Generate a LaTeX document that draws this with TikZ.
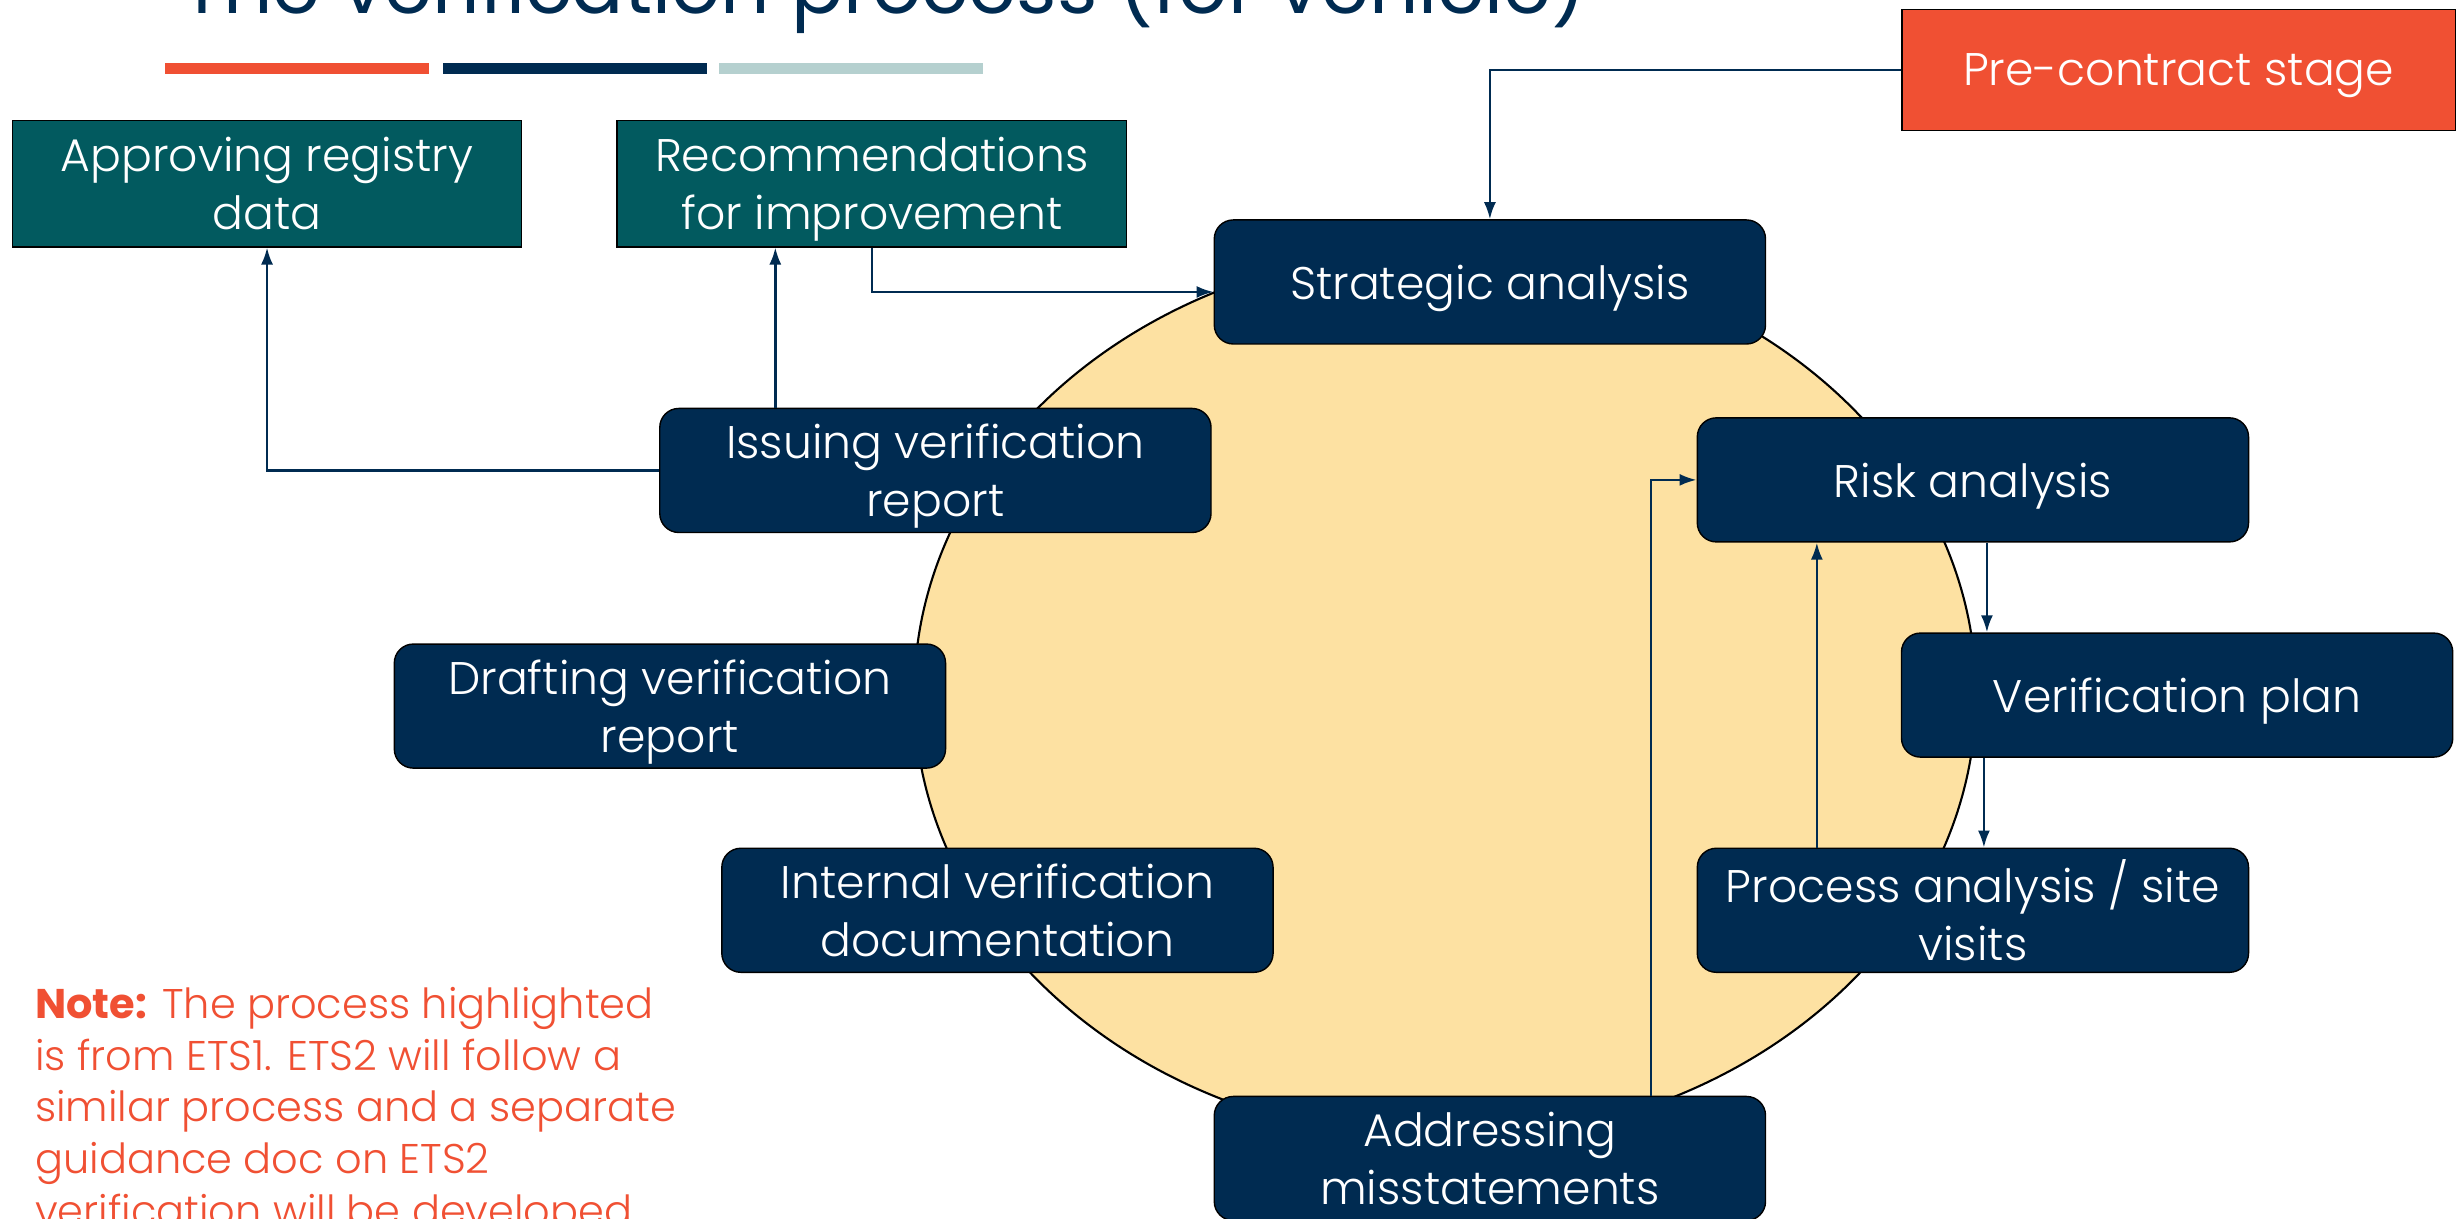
\documentclass[tikz,border=0pt]{standalone}
\usepackage{fontspec}
\IfFontExistsTF{Poppins Light}{\setmainfont{Poppins}[UprightFont=* Light,BoldFont=* Bold]}{\setmainfont{Poppins}}
\newfontfamily\headfont{Poppins}
\usepackage{xcolor}
\usetikzlibrary{arrows.meta}
\definecolor{navy}{HTML}{002B51}
\definecolor{redorange}{HTML}{F05033}
\definecolor{darkteal}{HTML}{025A5F}
\definecolor{paleteal}{HTML}{B5D0CF}
\definecolor{sand}{HTML}{FDE1A2}

\begin{document}
\begin{tikzpicture}[x=0.015708cm,y=-0.015708cm,
    stage/.style={draw=black,fill=navy,text=white,rounded corners=0.19cm,
      minimum width=5.51cm,minimum height=1.24cm,align=center,text depth=0pt,
      font=\fontsize{13}{16.5}\selectfont,inner sep=0pt},
    output/.style={draw=black,fill=darkteal,text=white,
      minimum width=5.09cm,minimum height=1.26cm,align=center,text depth=0pt,
      font=\fontsize{13}{16.5}\selectfont,inner sep=0pt},
    arr/.style={navy,line width=0.7pt,-{Latex[length=0.17cm,width=0.12cm]}}]
                \useasboundingbox (0,0) rectangle (1568,776);
                \node[anchor=base west,text=navy,font=\headfont\fontsize{22}{26}\selectfont,inner sep=0pt] (title) at (115,8.5) {The verification process (for vehicle)};
                \fill[redorange] (105,40) rectangle (273,47);
                \fill[navy] (282,40) rectangle (450,47);
                \fill[paleteal] (458,40) rectangle (626,47);
                \filldraw[fill=sand,draw=black,line width=0.6pt] (920,442) ellipse [x radius=338,y radius=284];
                \node[output,fill=redorange,minimum width=5.53cm,minimum height=1.21cm] (pre) at (1387,44.5) {Pre-contract stage};
                \node[output] (appr) at (170,117) {Approving registry\\data};
                \node[output] (rec) at (555,117) {Recommendations\\for improvement};
                \node[stage] (strat) at (948.5,179.5) {Strategic analysis};
                \node[stage] (risk) at (1256,305.5) {Risk analysis};
                \node[stage] (plan) at (1386,442.5) {Verification plan};
                \node[stage] (proc) at (1256,579.5) {Process analysis / site\\visits};
                \node[stage] (addr) at (948.5,737.5) {Addressing\\misstatements};
                \node[stage] (intern) at (635,579.5) {Internal verification\\documentation};
                \node[stage] (draft) at (426.5,449.5) {Drafting verification\\report};
                \node[stage] (issue) at (595.5,299.5) {Issuing verification\\report};
                \draw[arr] (pre.west) -| (strat.north);
                \draw[arr] (rec.south) |- ([yshift=-0.1cm]strat.west);
                \draw[arr] ([xshift=-1.6cm]issue.north) -- ([xshift=-1.6cm]issue.north |- rec.south);
                \draw[arr] (issue.west) -| (appr.south);
                \draw[arr] ([xshift=0.14cm]risk.south) -- ([xshift=0.14cm]risk.south |- plan.north);
                \draw[arr] ([xshift=0.11cm]proc.north |- plan.south) -- ([xshift=0.11cm]proc.north);
                \draw[arr] ([xshift=-1.56cm]proc.north) -- ([xshift=-1.56cm]risk.south);
                \draw[arr] ([xshift=1.61cm]addr.north) |- (risk.west);
                \node[anchor=north west,text=redorange,align=left,inner sep=0pt,font=\fontsize{11.8}{14.7}\selectfont] (note) at (22,628) {\textbf{Note:} The process highlighted\\is from ETS1. ETS2 will follow a\\similar process and a separate\\guidance doc on ETS2\\verification will be developed};
            \end{tikzpicture}
\end{document}
